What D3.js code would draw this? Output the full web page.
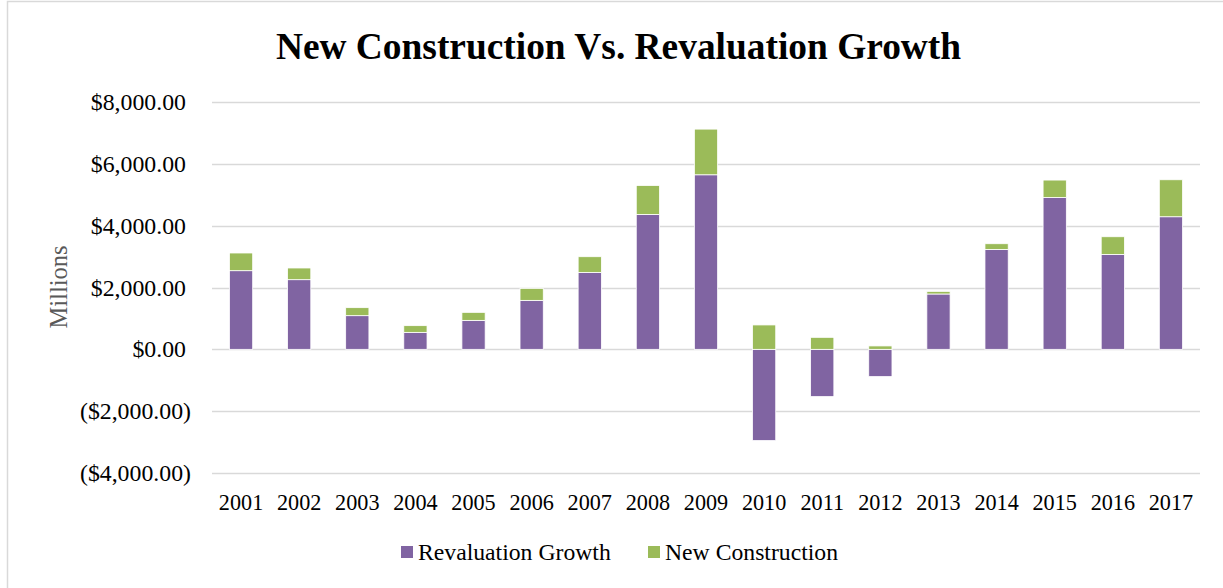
<!DOCTYPE html>
<html>
<head>
<meta charset="utf-8">
<script src="https://cdn.jsdelivr.net/npm/d3@7"></script>
<style>
  body { margin: 0; background: #fff; }
  svg { display: block; font-family: "Liberation Serif", "Times New Roman", serif; }
</style>
</head>
<body>
<div id="chart"></div>
<script>
var years = ["2001", "2002", "2003", "2004", "2005", "2006", "2007", "2008", "2009",
    "2010", "2011", "2012", "2013", "2014", "2015", "2016", "2017"];
var revaluationGrowth = [2544, 2253, 1089, 549, 937, 1584, 2489, 4363, 5646,
    -2951, -1529, -882, 1790, 3232, 4913, 3070, 4289];
var newConstruction = [572, 378, 259, 217, 259, 388, 507, 937, 1477,
    789, 388, 110, 85, 184, 562, 572, 1196];
var yTicks = [-4000, -2000, 0, 2000, 4000, 6000, 8000];
var seriesNames = ["Revaluation Growth", "New Construction"];

var colors = {
    "Revaluation Growth": "#8064A2",
    "New Construction": "#9BBB59"
};

var W = 1223, H = 588;
var margin = { top: 102, right: 23, bottom: 115, left: 212 };
var width = W - margin.left - margin.right,
    height = H - margin.top - margin.bottom;

var svg = d3.select("#chart").append("svg")
    .attr("width", W)
    .attr("height", H);

// outer chart frame
svg.append("rect")
    .attr("x", 7.5).attr("y", 1.5)
    .attr("width", W).attr("height", H)
    .attr("fill", "none")
    .attr("stroke", "#D9D9D9")
    .attr("stroke-width", 1.5);

var rows = years.map(function (y, i) {
    return { year: y, "Revaluation Growth": revaluationGrowth[i], "New Construction": newConstruction[i] };
});

var stack = d3.stack()
    .keys(seriesNames)
    .offset(d3.stackOffsetDiverging);
var layers = stack(rows);

var x = d3.scaleBand()
    .domain(years)
    .range([0, width])
    .paddingInner(0.6)
    .paddingOuter(0.3);

var y = d3.scaleLinear()
    .domain([-4000, 8000])
    .range([height, 0]);

var wrapper = svg.append("g")
    .attr("transform", "translate(" + margin.left + "," + margin.top + ")");

// gridlines
wrapper.append("g")
    .selectAll("line")
    .data(yTicks)
    .enter()
    .append("line")
    .attr("x1", 0)
    .attr("x2", width)
    .attr("y1", function (d) { return Math.round(y(d)) + 0.5; })
    .attr("y2", function (d) { return Math.round(y(d)) + 0.5; })
    .attr("stroke", "#D9D9D9")
    .attr("stroke-width", 1.5);

// bars
wrapper.append("g")
    .selectAll("g")
    .data(layers)
    .enter()
    .append("g")
    .attr("fill", function (d) { return colors[d.key]; })
    .selectAll("rect")
    .data(function (d) { return d; })
    .enter()
    .append("rect")
    .attr("x", function (d) { return x(d.data.year); })
    .attr("width", x.bandwidth())
    .attr("y", function (d) { return y(Math.max(d[0], d[1])); })
    .attr("height", function (d) { return Math.abs(y(d[0]) - y(d[1])); })
    .attr("stroke", "#fff")
    .attr("stroke-width", 0.8);

// y axis labels (accounting format)
function fmt(v) {
    var s = "$" + d3.format(",.2f")(Math.abs(v));
    return v < 0 ? "(" + s + ")" : s;
}
var yAxis = d3.axisLeft(y)
    .tickValues(yTicks)
    .tickFormat(fmt)
    .tickSize(0)
    .tickPadding(21);
var gY = wrapper.append("g")
    .attr("class", "y-axis")
    .call(yAxis);
gY.select(".domain").remove();
gY.selectAll("text")
    .attr("font-family", "Liberation Serif, serif")
    .attr("font-size", 23.8)
    .attr("fill", "#000")
    .attr("dx", function (d) { return d < 0 ? 0 : -5; });

// x axis labels
var xAxis = d3.axisBottom(x).tickSize(0).tickPadding(21);
var gX = wrapper.append("g")
    .attr("class", "x-axis")
    .attr("transform", "translate(0," + height + ")")
    .call(xAxis);
gX.select(".domain").remove();
gX.selectAll("text")
    .attr("font-family", "Liberation Serif, serif")
    .attr("font-size", 22.2)
    .attr("fill", "#000");

// y axis title
svg.append("text")
    .attr("transform", "translate(67,287) rotate(-90)")
    .attr("text-anchor", "middle")
    .attr("font-size", 24.5)
    .attr("fill", "#595959")
    .text("Millions");

// chart title
svg.append("text")
    .attr("x", 618.5)
    .attr("y", 59)
    .attr("text-anchor", "middle")
    .attr("font-size", 37.4)
    .attr("font-weight", "bold")
    .attr("fill", "#000")
    .text("New Construction Vs. Revaluation Growth");

// legend
var legendPos = [{ key: "Revaluation Growth", x: 401 }, { key: "New Construction", x: 648 }];
var legend = svg.append("g")
    .selectAll("g")
    .data(legendPos)
    .enter()
    .append("g")
    .attr("transform", function (d) { return "translate(" + d.x + ",546)"; });
legend.append("rect")
    .attr("width", 12)
    .attr("height", 12)
    .attr("fill", function (d) { return colors[d.key]; });
legend.append("text")
    .attr("x", 17)
    .attr("y", 14)
    .attr("font-size", 23.7)
    .attr("fill", "#000")
    .text(function (d) { return d.key; });
</script>
</body>
</html>
